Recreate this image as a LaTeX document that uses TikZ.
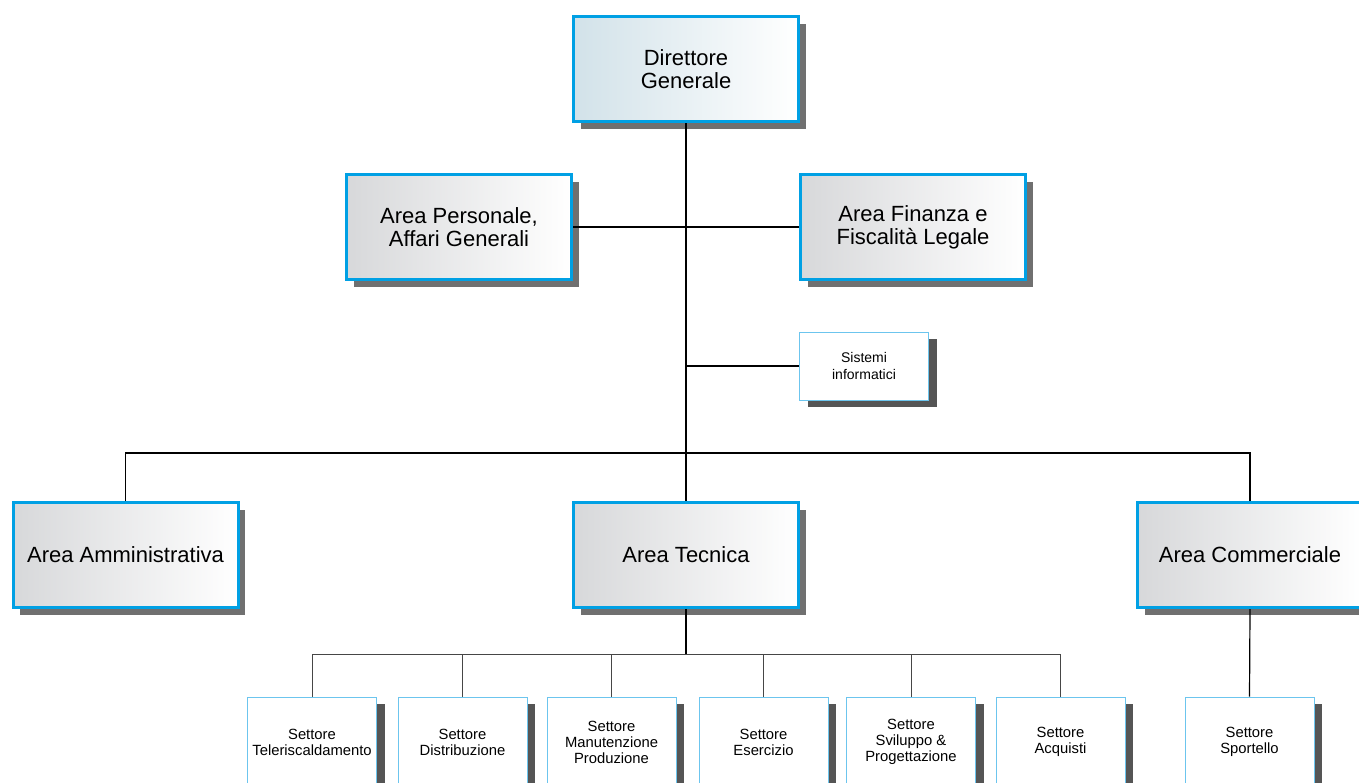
\documentclass[tikz,border=0pt]{standalone}
\usepackage{fontspec}
\setmainfont{Liberation Sans}
\usepackage{xcolor}
\usepackage{tikz}
\usetikzlibrary{shadows}
\definecolor{boxblue}{RGB}{0,160,228}
\definecolor{lineblue}{RGB}{108,197,238}
\definecolor{headleft}{RGB}{210,226,233}
\definecolor{arealeft}{RGB}{215,216,218}
\definecolor{shadowgray}{RGB}{112,112,112}
\definecolor{darkshadow}{RGB}{85,85,85}
\definecolor{barline}{RGB}{70,70,70}
\tikzset{
    boxnode/.style = {align=center, inner sep=0pt, text centered, text=black},
    area_node/.style = {boxnode, rectangle, draw=boxblue, line width=3pt, left color=arealeft, right color=white,
        minimum width=225pt, minimum height=105pt, font=\fontsize{22}{23}\selectfont,
        drop shadow={shadow xshift=7pt, shadow yshift=-7pt, fill=shadowgray, opacity=1}},
    head_node/.style = {area_node, left color=headleft, right color=white},
    info_node/.style = {boxnode, rectangle, draw=lineblue, line width=1pt, fill=white,
        minimum width=129pt, minimum height=68pt, font=\fontsize{14}{17}\selectfont,
        drop shadow={shadow xshift=8pt, shadow yshift=-7pt, fill=darkshadow, opacity=1}},
    sector_node/.style = {info_node, minimum height=90pt, font=\fontsize{14.8}{16}\selectfont},
    link/.style = {black, line width=1.2pt},
    thinlink/.style = {barline, line width=1pt}
}

\begin{document}
\begin{tikzpicture}[x=1pt, y=-1pt]
    \useasboundingbox (0,0) rectangle (1359,782);
    \clip (0,0) rectangle (1359,782);

    \node [head_node] (dir) at (686,69) {Direttore\\Generale};
    \node [area_node] (pers) at (459,227) {Area Personale,\\Affari Generali};
    \node [area_node] (fin) at (913,227) {Area Finanza e\\Fiscalità Legale};
    \node [info_node] (sis) at (864,366) {Sistemi\\informatici};

    \node [area_node] (amm) at (125.5,555) {Area Amministrativa};
    \node [area_node] (tec) at (686,555) {Area Tecnica};
    \node [area_node] (com) at (1250,555) {Area Commerciale};

    \node [sector_node] (tele) at (312,742) {Settore\\Teleriscaldamento};
    \node [sector_node] (dist) at (462.5,742) {Settore\\Distribuzione};
    \node [sector_node] (manu) at (611.5,742) {Settore\\Manutenzione\\Produzione};
    \node [sector_node] (eser) at (763.5,742) {Settore\\Esercizio};
    \node [sector_node] (svil) at (911,742) {Settore\\Sviluppo \&\\Progettazione};
    \node [sector_node] (acq) at (1060.5,742) {Settore\\Acquisti};
    \node [sector_node] (spor) at (1249.5,742) {Settore\\Sportello};

    \coordinate (hub) at (686,453);
    \coordinate (bar) at (686,654);

    \draw [link] (dir.south) -- (tec.north);
    \draw [link] (pers.east) -- (fin.west);
    \draw [link] (sis.west) -- (sis.west -| dir.south);
    \draw [link] (amm.north) |- (hub) -| (com.north);
    \draw [link] (tec.south) -- (bar);
    \draw [thinlink] (tele.north) |- (acq.north |- bar) -- (acq.north);
    \foreach \s in {dist, manu, eser, svil}
        \draw [thinlink] (\s.north) -- (\s.north |- bar);
    \draw [link] (com.south) -- (spor.north);
\end{tikzpicture}
\end{document}
